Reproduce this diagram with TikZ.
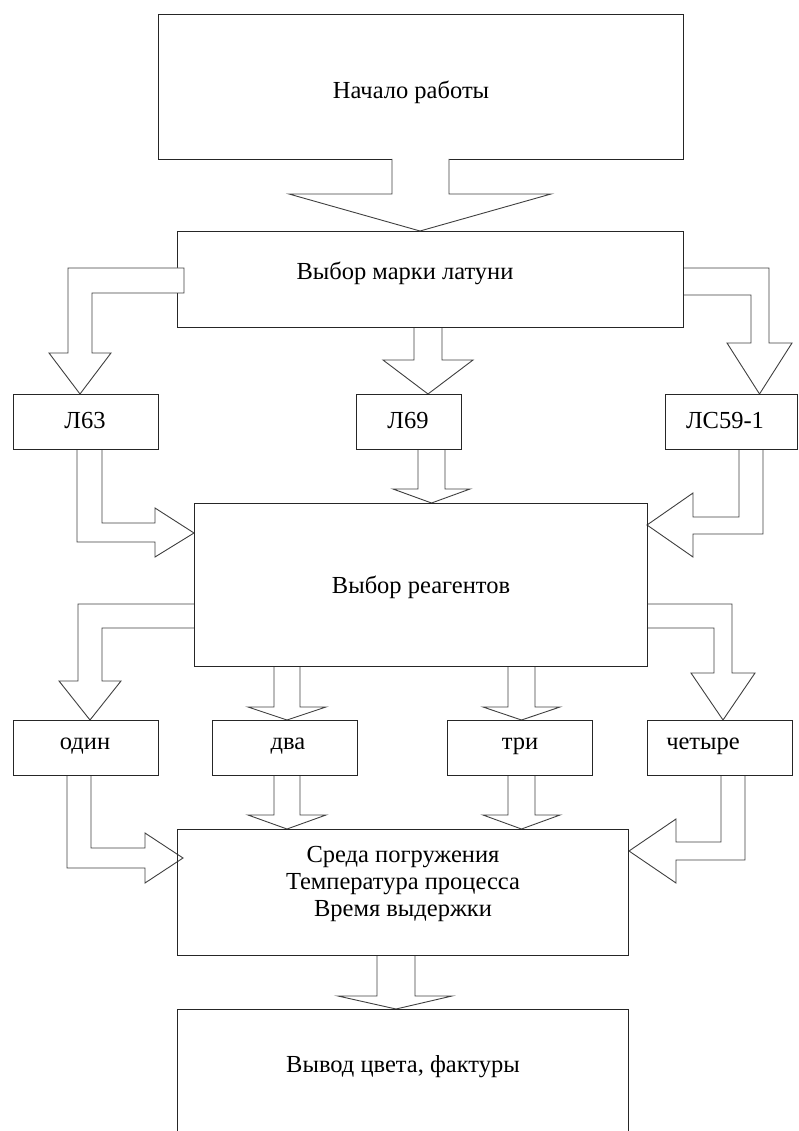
\documentclass[tikz,border=0pt]{standalone}
\usepackage{fontspec}
\setmainfont{Liberation Serif}
\begin{document}
\begin{tikzpicture}[x=1pt,y=-1pt,
  line width=0.9pt, line join=miter,
  box/.style={draw=black!85, line width=0.9pt},
  blk/.style={draw=black!75, fill=white, line width=0.9pt},
  lbl/.style={font=\fontsize{24.5}{27}\selectfont, inner sep=0pt, align=center}]
\useasboundingbox (0,0) rectangle (799,1131);
\clip (0,0) rectangle (799,1131);

% ---- block arrows lying under the boxes ----
% Выбор марки -> Л69
\draw[blk] (414,327) -- (414,360) -- (383,360) -- (428,394) -- (473,360) -- (442,360) -- (442,327);
% Выбор марки -> ЛС59-1
\draw[blk] (683,268) -- (769,268) -- (769,343) -- (792,343) -- (759.5,394) -- (727,343) -- (751,343) -- (751,295) -- (683,295);
% Л63 -> Выбор реагентов
\draw[blk] (77,449) -- (77,542) -- (155,542) -- (155,557) -- (194,533) -- (155,508) -- (155,523) -- (102,523) -- (102,449);
% Л69 -> Выбор реагентов
\draw[blk] (418,449) -- (418,489) -- (393,489) -- (431.5,503) -- (470,489) -- (445,489) -- (445,449);
% ЛС59-1 -> Выбор реагентов
\draw[blk] (739,449) -- (739,517) -- (693,517) -- (693,493) -- (647,525) -- (693,557) -- (693,534) -- (763,534) -- (763,449);
% Выбор реагентов -> один
\draw[blk] (194,604) -- (78,604) -- (78,681) -- (59,681) -- (90,720) -- (121,681) -- (102,681) -- (102,628) -- (194,628);
% Выбор реагентов -> два
\draw[blk] (274,666) -- (274,707) -- (248,707) -- (287,720) -- (326,707) -- (300,707) -- (300,666);
% Выбор реагентов -> три
\draw[blk] (508,666) -- (508,707) -- (483,707) -- (521.5,720) -- (560,707) -- (535,707) -- (535,666);
% Выбор реагентов -> четыре
\draw[blk] (647,604) -- (732,604) -- (732,673) -- (755,673) -- (723,720) -- (691,673) -- (714,673) -- (714,628) -- (647,628);
% один -> Среда
\draw[blk] (67,775) -- (67,868) -- (145,868) -- (145,883) -- (183,858) -- (145,833) -- (145,848) -- (91,848) -- (91,775);
% два -> Среда
\draw[blk] (274,775) -- (274,815) -- (248,815) -- (287,829) -- (326,815) -- (300,815) -- (300,775);
% три -> Среда
\draw[blk] (508,775) -- (508,815) -- (483,815) -- (521.5,829) -- (560,815) -- (535,815) -- (535,775);
% четыре -> Среда
\draw[blk] (721,775) -- (721,842) -- (676,842) -- (676,819) -- (629,851) -- (676,883) -- (676,860) -- (745,860) -- (745,775);
% Среда -> Вывод
\draw[blk] (377,955) -- (377,996) -- (338,996) -- (396,1009) -- (452,996) -- (415,996) -- (415,955);

% ---- boxes ----
\draw[box] (158,14) rectangle (683,159);
\draw[box] (177,231) rectangle (683,327);
\draw[box] (13,394) rectangle (158,449);
\draw[box] (356,394) rectangle (461,449);
\draw[box] (665,394) rectangle (797,449);
\draw[box] (194,503) rectangle (647,666);
\draw[box] (13,720) rectangle (158,775);
\draw[box] (212,720) rectangle (357,775);
\draw[box] (447,720) rectangle (592,775);
\draw[box] (647,720) rectangle (792,775);
\draw[box] (177,829) rectangle (628,955);
\draw[box] (177,1009) -- (177,1140) (628,1009) -- (628,1140) (177,1009) -- (628,1009);

% ---- block arrows lying over the boxes ----
% Начало работы -> Выбор марки
\draw[blk] (392,159) -- (392,194) -- (289,194) -- (420,231) -- (551,194) -- (449,194) -- (449,159);
% Выбор марки -> Л63
\draw[blk] (184,268) -- (68,268) -- (68,353) -- (49,353) -- (80,394) -- (111,353) -- (92,353) -- (92,293) -- (184,293) -- cycle;

% ---- texts ----
\node[lbl] (tStart) at (411,92) {Начало работы};
\node[lbl] (tBrand) at (405,273) {Выбор марки латуни};
\node[lbl] (tL63) at (85,421) {Л63};
\node[lbl] (tL69) at (408,421) {Л69};
\node[lbl] (tLS) at (725,421) {ЛС59-1};
\node[lbl] (tReag) at (421,587) {Выбор реагентов};
\node[lbl] (tOne) at (85,746) {один};
\node[lbl] (tTwo) at (288,746) {два};
\node[lbl] (tThree) at (520,746) {три};
\node[lbl] (tFour) at (703,746) {четыре};
\node[lbl] (tEnv) at (403,884) {Среда погружения\\Температура процесса\\Время выдержки};
\node[lbl] (tOut) at (403,1067) {Вывод цвета, фактуры};
\end{tikzpicture}
\end{document}
